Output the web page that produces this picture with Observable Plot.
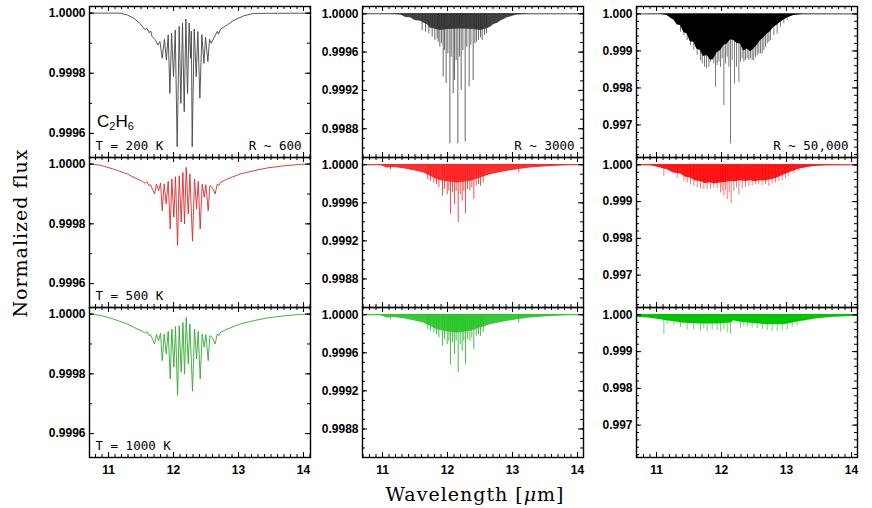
<!DOCTYPE html>
<html><head><meta charset="utf-8">
<script src="https://cdn.jsdelivr.net/npm/d3@7"></script>
<script src="https://cdn.jsdelivr.net/npm/@observablehq/plot@0.6"></script>
<style>
html,body{margin:0;padding:0;background:#fff;}
#chart{position:relative;width:872px;height:508px;overflow:hidden;background:#fff;}
.lab{position:absolute;white-space:nowrap;color:#000;}
</style></head><body><div id="chart"></div>
<script>
// ---------------- data (wavelength in µm, normalized flux) ----------------
const CONTINUUM = 1.0;
const xTickLabels = [11, 12, 13, 14];
const yTicksCol1 = [1.0000, 0.9998, 0.9996];
const yTicksCol2 = [1.0000, 0.9996, 0.9992, 0.9988];
const yTicksCol3 = [1.000, 0.999, 0.998, 0.997];
const panelLabelsT = ["T = 200 K", "T = 500 K", "T = 1000 K"];
const panelLabelsR = ["R ~ 600", "R ~ 3000", "R ~ 50,000"];

// R ~ 600 spectra (line)
const r600_T200 = [[10.708,1.0],[11.185,1.0],[11.287,0.999994],[11.39,0.999983],[11.49,0.999964],[11.56,0.999945],[11.59,0.99995],[11.62,0.999935],[11.65,0.99994],[11.67,0.999922],[11.72,0.999911],[11.76,0.999894],[11.79,0.999906],[11.826,0.99985],[11.86,0.999913],[11.89,0.999844],[11.918,0.999928],[11.944,0.999733],[11.97,0.999933],[12.0,0.999789],[12.026,0.999944],[12.056,0.999556],[12.087,0.999956],[12.113,0.9997],[12.138,0.999967],[12.164,0.999672],[12.19,0.99998],[12.215,0.999733],[12.24,0.999967],[12.262,0.99985],[12.274,0.99994],[12.287,0.999556],[12.318,0.999947],[12.349,0.999789],[12.374,0.999939],[12.405,0.999717],[12.436,0.999928],[12.467,0.999833],[12.492,0.99992],[12.528,0.999839],[12.554,0.999913],[12.579,0.9999],[12.62,0.999917],[12.65,0.99993],[12.672,0.999939],[12.69,0.99993],[12.723,0.999947],[12.826,0.999961],[12.928,0.999976],[13.08,0.999991],[13.236,0.999999],[14.108,1.0]];
const r600_T500 = [[10.708,1.0],[10.877,0.999996],[11.08,0.999983],[11.287,0.999967],[11.44,0.99995],[11.51,0.999944],[11.54,0.999939],[11.565,0.999936],[11.59,0.999942],[11.62,0.999928],[11.646,0.999931],[11.708,0.9999],[11.738,0.999933],[11.77,0.999911],[11.8,0.999936],[11.826,0.999844],[11.856,0.999933],[11.887,0.999867],[11.918,0.999942],[11.949,0.999783],[11.974,0.99995],[12.005,0.999822],[12.03,0.999958],[12.062,0.999728],[12.087,0.999961],[12.118,0.999806],[12.144,0.999972],[12.169,0.9998],[12.195,0.999989],[12.226,0.999833],[12.251,0.999967],[12.292,0.999742],[12.323,0.99995],[12.354,0.99985],[12.38,0.999942],[12.41,0.999783],[12.441,0.999933],[12.472,0.999889],[12.497,0.999931],[12.533,0.999844],[12.559,0.999928],[12.595,0.999922],[12.64,0.9999],[12.672,0.999933],[12.7,0.999928],[12.723,0.999939],[12.826,0.99995],[13.03,0.999967],[13.236,0.999978],[13.44,0.999987],[13.697,0.999994],[13.95,0.999999],[14.108,1.0]];
const r600_T1000 = [[10.708,1.0],[10.877,0.999996],[11.08,0.999983],[11.287,0.999967],[11.44,0.99995],[11.51,0.999944],[11.54,0.999939],[11.565,0.999936],[11.59,0.999942],[11.62,0.999928],[11.646,0.999931],[11.708,0.9999],[11.738,0.999933],[11.77,0.999911],[11.8,0.999936],[11.826,0.999844],[11.856,0.999933],[11.887,0.999867],[11.918,0.999942],[11.949,0.999783],[11.974,0.99995],[12.005,0.999822],[12.03,0.999958],[12.062,0.999728],[12.087,0.999961],[12.118,0.999806],[12.144,0.999972],[12.169,0.9998],[12.195,0.999989],[12.226,0.999833],[12.251,0.999967],[12.292,0.999742],[12.323,0.99995],[12.354,0.99985],[12.38,0.999942],[12.41,0.999783],[12.441,0.999933],[12.472,0.999889],[12.497,0.999931],[12.533,0.999844],[12.559,0.999928],[12.595,0.999922],[12.64,0.9999],[12.672,0.999933],[12.7,0.999928],[12.723,0.999939],[12.826,0.99995],[13.03,0.999967],[13.236,0.999978],[13.44,0.999987],[13.697,0.999994],[13.95,0.999999],[14.108,1.0]];

// R ~ 3000: dense band lower envelope + individual line depths
const r3000_T200_band = [[10.69,1.0],[11.12,0.999997],[11.28,0.999986],[11.36,0.99996],[11.43,0.999958],[11.5,0.99993],[11.585,0.999923],[11.64,0.9999],[11.687,0.999889],[11.74,0.99985],[11.79,0.999843],[11.89,0.999826],[11.995,0.999835],[12.2,0.99984],[12.405,0.999835],[12.508,0.999826],[12.61,0.999843],[12.66,0.99986],[12.713,0.999889],[12.77,0.9999],[12.815,0.999923],[12.87,0.99994],[12.918,0.999958],[13.07,0.999986],[13.277,1.0],[14.09,1.0]];
const r3000_T200_lines = [[11.61,0.999826],[11.662,0.999809],[11.713,0.999791],[11.764,0.999757],[11.805,0.999722],[11.841,0.999739],[11.856,0.999704],[11.882,0.999652],[11.908,0.999687],[11.933,0.999339],[11.954,0.999617],[11.979,0.99927],[12.005,0.999583],[12.036,0.998643],[12.056,0.999548],[12.087,0.999165],[12.108,0.999304],[12.133,0.999513],[12.159,0.998643],[12.185,0.999548],[12.21,0.9992],[12.236,0.999617],[12.272,0.998661],[12.297,0.999652],[12.333,0.999235],[12.359,0.99967],[12.395,0.999304],[12.421,0.999687],[12.446,0.999704],[12.477,0.999722],[12.508,0.99975],[12.533,0.999722],[12.569,0.999774],[12.6,0.999791]];
const r3000_T500_band = [[10.713,1.0],[10.97,0.999993],[11.07,0.999965],[11.174,0.999972],[11.33,0.999958],[11.48,0.999937],[11.636,0.999913],[11.738,0.999878],[11.84,0.999843],[11.944,0.999826],[12.149,0.999809],[12.354,0.999826],[12.508,0.999861],[12.66,0.999896],[12.867,0.999923],[13.07,0.999948],[13.277,0.999965],[13.482,0.999976],[13.79,0.99999],[14.097,1.0]];
const r3000_T500_lines = [[11.123,0.999948],[11.697,0.999843],[11.738,0.999826],[11.79,0.999809],[11.831,0.999791],[11.867,0.999757],[11.923,0.99967],[11.954,0.999739],[11.995,0.999687],[12.021,0.999722],[12.046,0.999478],[12.077,0.999704],[12.108,0.999583],[12.133,0.999722],[12.164,0.999391],[12.195,0.999687],[12.226,0.999617],[12.251,0.999722],[12.277,0.999485],[12.308,0.999739],[12.344,0.999722],[12.374,0.999757],[12.405,0.999635],[12.441,0.999774],[12.477,0.999791],[12.508,0.999774],[12.549,0.999809],[13.097,0.999913]];
const r3000_T1000_band = [[10.713,1.0],[10.97,0.999993],[11.07,0.999965],[11.174,0.999972],[11.33,0.999958],[11.48,0.999937],[11.636,0.999913],[11.738,0.999878],[11.84,0.999843],[11.944,0.999826],[12.149,0.999809],[12.354,0.999826],[12.508,0.999861],[12.66,0.999896],[12.867,0.999923],[13.07,0.999948],[13.277,0.999965],[13.482,0.999976],[13.79,0.99999],[14.097,1.0]];
const r3000_T1000_lines = [[11.123,0.999948],[11.697,0.999843],[11.738,0.999826],[11.79,0.999809],[11.831,0.999791],[11.867,0.999757],[11.923,0.99967],[11.954,0.999739],[11.995,0.999687],[12.021,0.999722],[12.046,0.99947],[12.077,0.999704],[12.108,0.999583],[12.133,0.999722],[12.164,0.999391],[12.195,0.999687],[12.226,0.999617],[12.251,0.999722],[12.277,0.99948],[12.308,0.999739],[12.344,0.999722],[12.374,0.999757],[12.405,0.999635],[12.441,0.999774],[12.477,0.999791],[12.508,0.999774],[12.549,0.999809],[13.097,0.999913]];

// R ~ 50,000: saturated core envelope + individual line depths
const r50k_T200_band = [[10.692,1.0],[11.06,0.999991],[11.164,0.999955],[11.22,0.99988],[11.267,0.999838],[11.32,0.9997],[11.37,0.999685],[11.42,0.9995],[11.472,0.999459],[11.52,0.99925],[11.574,0.999234],[11.62,0.99905],[11.677,0.999009],[11.72,0.99885],[11.78,0.998874],[11.83,0.99875],[11.882,0.998784],[11.93,0.99895],[11.985,0.999009],[12.04,0.99915],[12.087,0.999189],[12.14,0.9993],[12.19,0.999279],[12.24,0.9992],[12.292,0.999189],[12.34,0.999],[12.395,0.999054],[12.45,0.99898],[12.497,0.999054],[12.55,0.99915],[12.6,0.999279],[12.65,0.99935],[12.703,0.999459],[12.75,0.99952],[12.805,0.99964],[12.86,0.9997],[12.908,0.999775],[13.01,0.999892],[13.113,0.999955],[13.267,0.999991],[14.077,1.0]];
const r50k_T200_lines = [[11.369,0.999505],[11.421,0.999414],[11.472,0.999279],[11.523,0.999144],[11.574,0.999009],[11.626,0.998874],[11.677,0.998739],[11.703,0.998649],[11.738,0.998559],[11.769,0.998514],[11.805,0.998559],[11.831,0.998694],[11.856,0.998739],[11.882,0.998649],[11.908,0.998018],[11.933,0.998604],[11.959,0.998694],[11.985,0.998559],[12.01,0.998784],[12.036,0.997523],[12.062,0.998649],[12.087,0.998829],[12.113,0.998559],[12.138,0.996486],[12.164,0.998739],[12.2,0.998108],[12.231,0.998559],[12.267,0.998153],[12.292,0.998694],[12.318,0.998784],[12.344,0.998694],[12.369,0.998739],[12.395,0.998784],[12.421,0.998739],[12.446,0.998784],[12.472,0.998739],[12.497,0.998739],[12.523,0.998829],[12.549,0.998874],[12.574,0.998919],[12.6,0.998919],[12.626,0.998919],[12.651,0.999009],[12.677,0.999099],[12.703,0.999189],[12.728,0.999234],[12.754,0.999279],[12.805,0.999414],[12.856,0.999459],[12.908,0.99964],[12.959,0.99973],[13.01,0.99982]];
const r50k_T500_band = [[10.692,1.0],[10.908,0.999982],[11.164,0.999865],[11.26,0.99978],[11.369,0.999748],[11.45,0.99966],[11.523,0.99964],[11.6,0.99956],[11.677,0.99955],[11.75,0.99949],[11.831,0.999505],[11.9,0.99948],[11.985,0.999505],[12.06,0.99952],[12.138,0.99955],[12.21,0.99954],[12.292,0.999568],[12.37,0.99955],[12.446,0.999568],[12.52,0.99954],[12.6,0.999568],[12.68,0.99956],[12.754,0.999595],[12.83,0.99962],[12.908,0.999685],[13.062,0.999802],[13.215,0.999892],[13.421,0.999955],[13.626,0.999982],[14.087,1.0]];
const r50k_T500_lines = [[11.113,0.999685],[11.318,0.99964],[11.421,0.99955],[11.472,0.999505],[11.523,0.999459],[11.574,0.999414],[11.626,0.999369],[11.677,0.999351],[11.728,0.999324],[11.779,0.999324],[11.831,0.999342],[11.882,0.999369],[11.933,0.999351],[11.985,0.999234],[12.01,0.999279],[12.036,0.999144],[12.062,0.999297],[12.087,0.999054],[12.118,0.999234],[12.149,0.998946],[12.19,0.999279],[12.231,0.999369],[12.267,0.999189],[12.318,0.999351],[12.369,0.999387],[12.421,0.999414],[12.472,0.999432],[12.523,0.999459],[12.574,0.999459],[12.626,0.999441],[12.677,0.999459],[12.728,0.999414],[12.779,0.999477],[12.831,0.999505],[12.882,0.99955],[12.933,0.999568],[12.985,0.999622],[13.036,0.999685],[13.113,0.999748],[13.19,0.999838],[13.267,0.999892]];
const r50k_T1000_band = [[10.692,0.999937],[10.908,0.99991],[11.164,0.999838],[11.421,0.999775],[11.677,0.999748],[11.933,0.999748],[12.15,0.99978],[12.19,0.99984],[12.24,0.99981],[12.292,0.999802],[12.446,0.999775],[12.703,0.99973],[12.959,0.99973],[13.215,0.99982],[13.472,0.999892],[13.728,0.999937],[14.087,0.999964]];
const r50k_T1000_lines = [[11.113,0.999459],[11.164,0.99973],[11.267,0.999712],[11.369,0.999658],[11.472,0.999595],[11.574,0.999595],[11.677,0.999568],[11.728,0.999622],[11.779,0.99955],[11.856,0.999595],[11.933,0.999568],[11.985,0.999532],[12.036,0.999595],[12.087,0.999505],[12.138,0.999477],[12.241,0.99982],[12.292,0.99964],[12.344,0.999685],[12.395,0.999658],[12.472,0.99964],[12.549,0.999622],[12.626,0.999595],[12.703,0.999568],[12.779,0.99955],[12.856,0.99955],[12.933,0.999568],[13.01,0.999595],[13.087,0.999658],[13.164,0.999712],[13.267,0.999802],[13.369,0.999856],[13.523,0.99991]];

// ---------------- layout ----------------
const chart = document.getElementById("chart");
const FW = 221;
const cols = [
  {left: 89,  xDomain: [10.707, 14.107], yDomain: [0.99952, 1.000022], yMajor: yTicksCol1, yMinor: d3.range(9995, 10001).map(i => i / 10000), fmt: d3.format(".4f")},
  {left: 362, xDomain: [10.692, 14.092], yDomain: [0.9985, 1.000076],  yMajor: yTicksCol2, yMinor: d3.range(9985, 10001).map(i => i / 10000), fmt: d3.format(".4f")},
  {left: 636, xDomain: [10.692, 14.092], yDomain: [0.99612, 1.0002],   yMajor: yTicksCol3, yMinor: d3.range(4981, 5001).map(i => i / 5000),  fmt: d3.format(".3f")}
];
const rows = [{top: 6, h: 151}, {top: 157, h: 150}, {top: 307, h: 150}];
const xMinor = d3.range(107, 142).map(i => i / 10);

const X = d => d[0], Y = d => d[1], TOP = () => CONTINUUM;

function tickMarks(h, col) {
  const inside = (v) => v >= col.yDomain[0] && v <= col.yDomain[1];
  const yMaj = col.yMajor.filter(inside), yMin = col.yMinor.filter(inside);
  const xMin = xMinor.filter(v => v >= col.xDomain[0] && v <= col.xDomain[1]);
  const o = {stroke: "#000", strokeWidth: 1};
  return [
    Plot.tickX(xTickLabels, {x: d => d, insetBottom: h - 5, ...o}),
    Plot.tickX(xTickLabels, {x: d => d, insetTop: h - 5, ...o}),
    Plot.tickX(xMin, {x: d => d, insetBottom: h - 3, ...o}),
    Plot.tickX(xMin, {x: d => d, insetTop: h - 3, ...o}),
    Plot.tickY(yMaj, {y: d => d, insetRight: FW - 5, ...o}),
    Plot.tickY(yMaj, {y: d => d, insetLeft: FW - 5, ...o}),
    Plot.tickY(yMin, {y: d => d, insetRight: FW - 3, ...o}),
    Plot.tickY(yMin, {y: d => d, insetLeft: FW - 3, ...o})
  ];
}

function panel(ci, ri, marks) {
  const col = cols[ci], row = rows[ri];
  const ml = 50, mr = 4, mt = 2, mb = ri === 2 ? 28 : 2;
  const annot = [];
  if (ci === 0) annot.push(Plot.text([panelLabelsT[ri]], {text: d => d, frameAnchor: "bottom-left", textAnchor: "start", lineAnchor: "middle", dx: 6, dy: -12, fontFamily: "DejaVu Sans Mono", fontSize: 12.5}));
  if (ri === 0) annot.push(Plot.text([panelLabelsR[ci]], {text: d => d, frameAnchor: "bottom-right", textAnchor: "end", lineAnchor: "middle", dx: -9, dy: -12, fontFamily: "DejaVu Sans Mono", fontSize: 12.5}));
  const svg = Plot.plot({
    width: FW + ml + mr, height: row.h + mt + mb,
    marginLeft: ml, marginRight: mr, marginTop: mt, marginBottom: mb,
    x: {domain: col.xDomain, axis: null},
    y: {domain: col.yDomain, axis: null},
    style: {fontFamily: "Liberation Sans, Arial, sans-serif", fontSize: "12px", background: "transparent", overflow: "visible"},
    marks: [
      ...marks,
      ...tickMarks(row.h, col),
      Plot.frame({stroke: "#000", strokeWidth: 1.4}),
      Plot.axisY(col.yMajor, {anchor: "left", tickSize: 0, tickPadding: 4, tickFormat: col.fmt, label: null, fontWeight: "bold", fontSize: 12}),
      ri === 2 ? Plot.axisX(xTickLabels, {anchor: "bottom", tickSize: 0, tickPadding: 8, tickFormat: d => String(d), label: null, fontWeight: "bold", fontSize: 12}) : null,
      ...annot
    ]
  });
  svg.style.position = "absolute";
  svg.style.left = (col.left - ml) + "px";
  svg.style.top = (row.top - mt) + "px";
  chart.append(svg);
}

function lineMarks(data, color) {
  return [Plot.line(data, {x: X, y: Y, stroke: color, strokeWidth: 0.9, clip: true})];
}
function denseMarks(band, lines, fill, ruleColor, baseColor) {
  return [
    Plot.ruleY([CONTINUUM], {stroke: baseColor, strokeWidth: 0.9, clip: true}),
    Plot.ruleX(lines, {x: X, y1: TOP, y2: Y, stroke: ruleColor, strokeWidth: 0.9, clip: true}),
    Plot.areaY(band, {x: X, y1: TOP, y2: Y, fill: fill, fillOpacity: 0.9, clip: true})
  ];
}

panel(0, 0, lineMarks(r600_T200, "#444"));
panel(1, 0, denseMarks(r3000_T200_band, r3000_T200_lines, "#2e2e2e", "#555", "#333"));
panel(2, 0, [
  Plot.ruleY([CONTINUUM], {stroke: "#333", strokeWidth: 0.9, clip: true}),
  Plot.ruleX(r50k_T200_lines, {x: X, y1: TOP, y2: Y, stroke: "#7a7a7a", strokeWidth: 1, clip: true}),
  Plot.areaY(r50k_T200_band, {x: X, y1: TOP, y2: Y, fill: "#000", clip: true})
]);
panel(0, 1, lineMarks(r600_T500, "#dd2a2a"));
panel(1, 1, denseMarks(r3000_T500_band, r3000_T500_lines, "#ff1a1a", "#f03a3a", "#ff0000"));
panel(2, 1, denseMarks(r50k_T500_band, r50k_T500_lines, "#ff0000", "#f26a6a", "#ff0000"));
panel(0, 2, lineMarks(r600_T1000, "#2eac2e"));
panel(1, 2, denseMarks(r3000_T1000_band, r3000_T1000_lines, "#22c422", "#33bb33", "#00c000"));
panel(2, 2, [
  Plot.ruleX(r50k_T1000_lines, {x: X, y1: TOP, y2: Y, stroke: "#6fd66f", strokeWidth: 1, clip: true}),
  Plot.areaY(r50k_T1000_band, {x: X, y1: TOP, y2: Y, fill: "#00c800", clip: true}),
  Plot.ruleY([CONTINUUM], {stroke: "#00b000", strokeWidth: 1, clip: true})
]);

// titles and molecule label (HTML overlays)
const yt = document.createElement("div");
yt.className = "lab";
yt.textContent = "Normalized flux";
Object.assign(yt.style, {left: "20px", top: "233px", transform: "translate(-50%,-50%) rotate(-90deg)", fontFamily: "DejaVu Serif", fontSize: "19px", letterSpacing: "1px"});
chart.append(yt);

const xt = document.createElement("div");
xt.className = "lab";
xt.innerHTML = "Wavelength [<i>μ</i>m]";
Object.assign(xt.style, {left: "475px", top: "494px", transform: "translate(-50%,-50%)", fontFamily: "DejaVu Serif", fontSize: "19px", letterSpacing: "1px"});
chart.append(xt);

const mol = document.createElement("div");
mol.className = "lab";
mol.innerHTML = "C<sub style='font-size:11px;vertical-align:-3px'>2</sub>H<sub style='font-size:11px;vertical-align:-3px'>6</sub>";
Object.assign(mol.style, {left: "97px", top: "112px", fontFamily: "Liberation Sans, Arial, sans-serif", fontSize: "17px", lineHeight: "20px"});
chart.append(mol);
</script></body></html>
